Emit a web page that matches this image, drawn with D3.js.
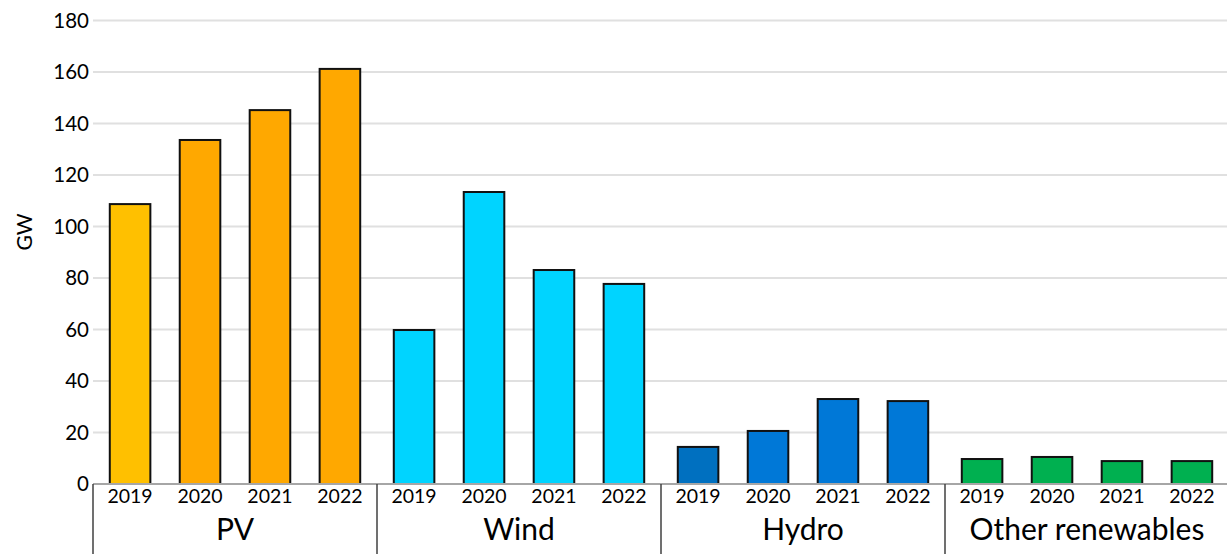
<!DOCTYPE html>
<html>
<head>
<meta charset="utf-8">
<script src="https://cdn.jsdelivr.net/npm/d3@7"></script>
<style>
  body { margin: 0; background: #fff; }
  svg { display: block; font-family: Lato, "Liberation Sans", sans-serif; }
</style>
</head>
<body>
<div id="chart"></div>
<script>
// data (GW)
var categories = ["PV", "Wind", "Hydro", "Other renewables"]
var years = ["2019", "2020", "2021", "2022"]
var pvValues = [108.7, 133.6, 145.2, 161.2]
var windValues = [59.8, 113.4, 83.1, 77.7]
var hydroValues = [14.4, 20.6, 33.0, 32.2]
var otherValues = [9.7, 10.5, 8.9, 8.9]
var yTicks = [0, 20, 40, 60, 80, 100, 120, 140, 160, 180]

var seriesValues = [pvValues, windValues, hydroValues, otherValues]

// colours, first year is a bit different in PV and Hydro
var barColors = [
  ["#FFC000", "#FFA800", "#FFA800", "#FFA800"],
  ["#00D4FF", "#00D4FF", "#00D4FF", "#00D4FF"],
  ["#0070C0", "#0078D7", "#0078D7", "#0078D7"],
  ["#00B050", "#00B050", "#00B050", "#00B050"]
]

var width = 1227
var height = 554
var plotLeft = 93
var plotRight = 1229
var plotTop = 20.5
var plotBottom = 484

var svg = d3.select("#chart")
  .append("svg")
  .attr("width", width)
  .attr("height", height)

var y = d3.scaleLinear().domain([0, 180]).range([plotBottom, plotTop])

var xCat = d3.scaleBand().domain(categories).range([plotLeft, plotRight])
var xYear = d3.scaleBand().domain(years).range([0, xCat.bandwidth()]).paddingInner(0.42).paddingOuter(0.24)

// grid lines
svg.append("g")
  .selectAll("line")
  .data(yTicks.filter(function (d) { return d > 0 }))
  .enter()
  .append("line")
  .attr("x1", plotLeft)
  .attr("x2", width)
  .attr("y1", function (d) { return y(d) })
  .attr("y2", function (d) { return y(d) })
  .attr("stroke", "#e0e0e0")
  .attr("stroke-width", 2)

// y axis labels
var yAxis = d3.axisLeft(y).tickValues(yTicks).tickSize(0).tickPadding(4)
var yg = svg.append("g")
  .attr("transform", "translate(" + plotLeft + ",0)")
  .call(yAxis)
yg.select(".domain").remove()
yg.selectAll("text")
  .attr("font-size", 20.5)
  .attr("font-family", "Lato, sans-serif")
  .attr("fill", "#000")

svg.append("text")
  .attr("transform", "translate(32," + 232 + ") rotate(-90)")
  .attr("text-anchor", "middle")
  .attr("font-size", 21)
  .text("GW")

// bars
var groups = svg.selectAll(".cat")
  .data(categories)
  .enter()
  .append("g")
  .attr("class", "cat")
  .attr("transform", function (d) { return "translate(" + xCat(d) + ",0)" })

groups.selectAll("rect")
  .data(function (d, i) {
    return years.map(function (yr, j) {
      return { year: yr, value: seriesValues[i][j], color: barColors[i][j] }
    })
  })
  .enter()
  .append("rect")
  .attr("x", function (d) { return xYear(d.year) })
  .attr("width", xYear.bandwidth())
  .attr("y", function (d) { return y(d.value) })
  .attr("height", function (d) { return plotBottom - y(d.value) })
  .attr("fill", function (d) { return d.color })
  .attr("stroke", "#111")
  .attr("stroke-width", 2)

// baseline
svg.append("line")
  .attr("x1", plotLeft)
  .attr("x2", width)
  .attr("y1", plotBottom)
  .attr("y2", plotBottom)
  .attr("stroke", "#a6a6a6")
  .attr("stroke-width", 2)

// year labels
groups.selectAll(".yr")
  .data(years)
  .enter()
  .append("text")
  .attr("class", "yr")
  .attr("x", function (d) { return xYear(d) + xYear.bandwidth() / 2 })
  .attr("y", 503)
  .attr("text-anchor", "middle")
  .attr("font-size", 19.5)
  .text(function (d) { return d })

// category labels
groups.append("text")
  .attr("x", xCat.bandwidth() / 2)
  .attr("y", 540)
  .attr("text-anchor", "middle")
  .attr("font-size", 30)
  .text(function (d) { return d })

// separators
svg.selectAll(".sep")
  .data(categories)
  .enter()
  .append("line")
  .attr("class", "sep")
  .attr("x1", function (d) { return xCat(d) })
  .attr("x2", function (d) { return xCat(d) })
  .attr("y1", plotBottom)
  .attr("y2", height)
  .attr("stroke", "#404040")
  .attr("stroke-width", 1.5)
</script>
</body>
</html>
